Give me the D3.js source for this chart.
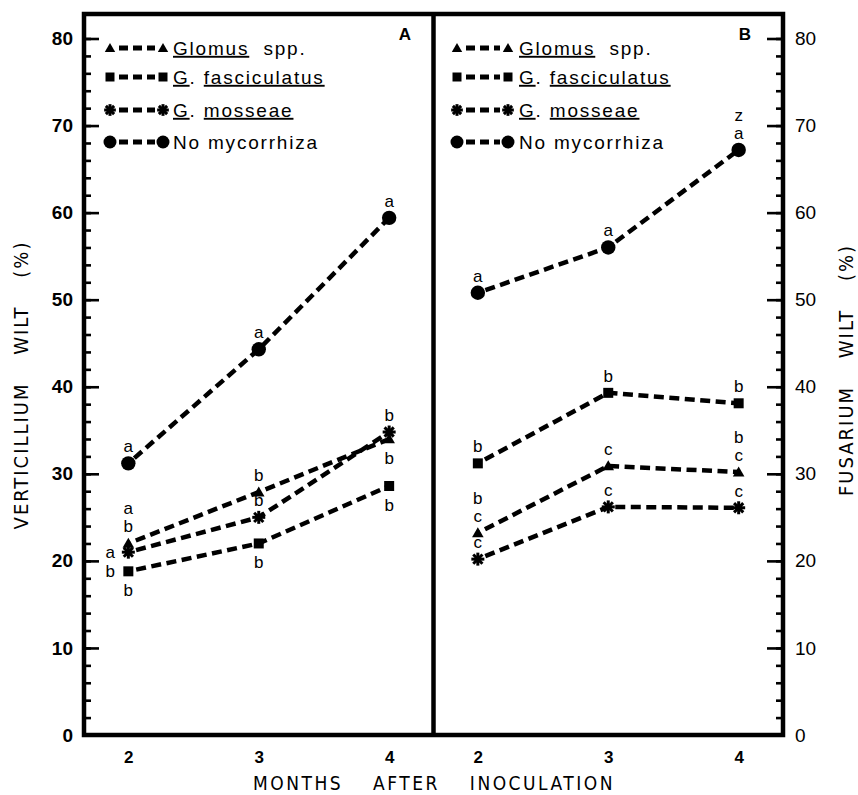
<!DOCTYPE html>
<html>
<head>
<meta charset="utf-8">
<script src="https://cdn.jsdelivr.net/npm/d3@7"></script>
<style>
  body { margin: 0; background: #fff; }
  svg { display: block; }
</style>
</head>
<body>
<svg id="chart" width="858" height="795"></svg>
<script>
const months = [2, 3, 4]
const yTicks = [0, 10, 20, 30, 40, 50, 60, 70, 80]
const yMinorTicks = d3.range(0, 81, 2)
const seriesSymbols = ['triangle', 'square', 'star', 'circle']

// legend text, split into [piece, underlined]
const legendParts = [
  [['Glomus', true], ['  spp.', false]],
  [['G', true], ['. ', false], ['fasciculatus', true]],
  [['G', true], ['. ', false], ['mosseae', true]],
  [['No mycorrhiza', false]]
]

// Panel A - Verticillium wilt (%)
const verticilliumGlomus = [22.0, 27.9, 34.0]
const verticilliumFasciculatus = [18.8, 22.0, 28.6]
const verticilliumMosseae = [21.0, 25.0, 34.8]
const verticilliumNone = [31.2, 44.3, 59.4]

// Panel B - Fusarium wilt (%)
const fusariumGlomus = [23.2, 30.9, 30.2]
const fusariumFasciculatus = [31.2, 39.3, 38.1]
const fusariumMosseae = [20.2, 26.2, 26.1]
const fusariumNone = [50.8, 56.0, 67.2]

// significance letters: [series index, month, side, letters top to bottom]
const verticilliumLetters = [
  [3, 2, 'above', 'a'], [0, 2, 'above', 'ab'], [2, 2, 'left', 'a'],
  [1, 2, 'left', 'b'], [1, 2, 'below', 'b'],
  [3, 3, 'above', 'a'], [0, 3, 'above', 'b'], [2, 3, 'above', 'b'], [1, 3, 'below', 'b'],
  [3, 4, 'above', 'a'], [2, 4, 'above', 'b'], [0, 4, 'below', 'b'], [1, 4, 'below', 'b']
]
const fusariumLetters = [
  [3, 2, 'above', 'a'], [1, 2, 'above', 'b'], [0, 2, 'above', 'bc'], [2, 2, 'above', 'c'],
  [3, 3, 'above', 'a'], [1, 3, 'above', 'b'], [0, 3, 'above', 'c'], [2, 3, 'above', 'c'],
  [3, 4, 'above', 'za'], [1, 4, 'above', 'b'], [0, 4, 'above', 'bc'], [2, 4, 'above', 'c']
]

const SANS = "'Liberation Sans', Arial, sans-serif"
const NARROW = "'Liberation Sans Narrow', 'DejaVu Sans Condensed', sans-serif"

const svg = d3.select('#chart')
const frame = { left: 84, mid: 433.5, right: 783, top: 14, bottom: 735 }

const y = d3.scaleLinear().domain([0, 80]).range([frame.bottom, 38.5])
const xA = d3.scaleLinear().domain([1.66, 4.34]).range([frame.left, frame.mid])
const xB = d3.scaleLinear().domain([1.66, 4.34]).range([frame.mid, frame.right])

const panels = [
  {
    x: xA,
    series: [verticilliumGlomus, verticilliumFasciculatus, verticilliumMosseae, verticilliumNone],
    letters: verticilliumLetters,
    legendX: [110, 163, 173],
    tag: 'A', tagX: 405
  },
  {
    x: xB,
    series: [fusariumGlomus, fusariumFasciculatus, fusariumMosseae, fusariumNone],
    letters: fusariumLetters,
    legendX: [457, 508, 519],
    tag: 'B', tagX: 745
  }
]

function drawSymbol (g, kind, cx, cy, scale = 1) {
  if (kind === 'circle') {
    g.append('circle').attr('cx', cx).attr('cy', cy).attr('r', 7.2 * scale).attr('fill', '#000')
  } else if (kind === 'square') {
    g.append('path')
      .attr('d', d3.symbol(d3.symbolSquare, 100 * scale * scale)())
      .attr('transform', `translate(${cx},${cy})`)
  } else if (kind === 'triangle') {
    g.append('path')
      .attr('d', d3.symbol(d3.symbolTriangle, 58 * scale * scale)())
      .attr('transform', `translate(${cx},${cy + 1})`)
  } else {
    const r = 6.5 * scale
    const star = g.append('g').attr('transform', `translate(${cx},${cy})`)
    d3.range(4).forEach((k) => {
      const a = k * Math.PI / 4
      star.append('line')
        .attr('x1', -r * Math.cos(a)).attr('y1', -r * Math.sin(a))
        .attr('x2', r * Math.cos(a)).attr('y2', r * Math.sin(a))
        .attr('stroke', '#000').attr('stroke-width', 3)
    })
    star.append('circle').attr('r', 3.5 * scale).attr('fill', '#000')
  }
}

// axes
const leftMinor = svg.append('g').attr('transform', `translate(${frame.left},0)`)
  .call(d3.axisLeft(y).tickValues(yMinorTicks).tickSize(-7).tickFormat(''))
const leftMajor = svg.append('g').attr('transform', `translate(${frame.left},0)`)
  .call(d3.axisLeft(y).tickValues(yTicks).tickSize(-15).tickPadding(11))
leftMajor.selectAll('text')
  .attr('font-family', SANS).attr('font-size', 19).attr('font-weight', 'bold').attr('fill', '#000')

const rightMinor = svg.append('g').attr('transform', `translate(${frame.right},0)`)
  .call(d3.axisRight(y).tickValues(yMinorTicks).tickSize(-7).tickFormat(''))
const rightMajor = svg.append('g').attr('transform', `translate(${frame.right},0)`)
  .call(d3.axisRight(y).tickValues(yTicks).tickSize(-16).tickPadding(12))
rightMajor.selectAll('text')
  .attr('font-family', SANS).attr('font-size', 19).attr('fill', '#000')

;[leftMinor, leftMajor, rightMinor, rightMajor].forEach((g) => {
  g.select('.domain').remove()
  g.selectAll('line').attr('stroke', '#000').attr('stroke-width', 2.6)
})

panels.forEach((p) => {
  const ax = svg.append('g').attr('transform', `translate(0,${frame.bottom})`)
    .call(d3.axisBottom(p.x).tickValues(months).tickFormat(d3.format('d')).tickSize(0).tickPadding(16))
  ax.select('.domain').remove()
  ax.selectAll('text')
    .attr('font-family', SANS).attr('font-size', 17).attr('font-weight', 'bold').attr('fill', '#000')
})

// frame
const frameG = svg.append('g').attr('stroke', '#000').attr('stroke-width', 4.5).attr('fill', 'none')
frameG.append('rect')
  .attr('x', frame.left).attr('y', frame.top)
  .attr('width', frame.right - frame.left).attr('height', frame.bottom - frame.top)
frameG.append('line')
  .attr('x1', frame.mid).attr('x2', frame.mid).attr('y1', frame.top).attr('y2', frame.bottom)

// data
panels.forEach((p) => {
  const g = svg.append('g')
  const line = d3.line().x((d, i) => p.x(months[i])).y((d) => y(d))
  p.series.forEach((values) => {
    g.append('path')
      .attr('d', line(values))
      .attr('fill', 'none')
      .attr('stroke', '#000')
      .attr('stroke-width', 4.5)
      .attr('stroke-dasharray', '10,5.5')
      .attr('stroke-dashoffset', -8)
  })
  p.series.forEach((values, s) => {
    values.forEach((v, i) => drawSymbol(g, seriesSymbols[s], p.x(months[i]), y(v)))
  })

  // significance letters
  const lg = g.append('g')
    .attr('font-family', SANS).attr('font-size', 17).attr('text-anchor', 'middle')
  p.letters.forEach(([s, m, side, text]) => {
    const px = p.x(m)
    const py = y(p.series[s][months.indexOf(m)])
    const chars = text.split('')
    chars.forEach((c, k) => {
      let tx = px
      let ty
      if (side === 'above') ty = py - 17 - (chars.length - 1 - k) * 18
      else if (side === 'below') ty = py + 19 + k * 18
      else { tx = px - 18; ty = py }
      lg.append('text').attr('x', tx).attr('y', ty).attr('dy', '0.35em').text(c)
    })
  })

  // legend
  const rows = [48, 77, 110, 142]
  const leg = svg.append('g')
  rows.forEach((ry, s) => {
    leg.append('line')
      .attr('x1', p.legendX[0] + 9).attr('x2', p.legendX[1] - 8)
      .attr('y1', ry).attr('y2', ry)
      .attr('stroke', '#000').attr('stroke-width', 5).attr('stroke-dasharray', '9,5')
    drawSymbol(leg, seriesSymbols[s], p.legendX[0], ry, 0.9)
    drawSymbol(leg, seriesSymbols[s], p.legendX[1], ry, 0.9)
    const t = leg.append('text')
      .attr('x', p.legendX[2]).attr('y', ry).attr('dy', '0.36em')
      .attr('font-family', SANS).attr('font-size', 19).attr('letter-spacing', 1.8)
      .style('white-space', 'pre')
    legendParts[s].forEach(([piece, under]) => {
      t.append('tspan').text(piece).style('text-decoration', under ? 'underline' : 'none')
    })
  })

  svg.append('text')
    .attr('x', p.tagX).attr('y', 34).attr('dy', '0.35em')
    .attr('font-family', SANS).attr('font-size', 17).attr('font-weight', 'bold')
    .attr('text-anchor', 'middle').text(p.tag)
})

// axis titles
svg.append('text')
  .attr('transform', 'translate(28,385) rotate(-90)')
  .attr('text-anchor', 'middle')
  .attr('font-family', NARROW).attr('font-size', 20).attr('letter-spacing', 2)
  .attr('word-spacing', 20)
  .text('VERTICILLIUM WILT (%)')

svg.append('text')
  .attr('transform', 'translate(853,370) rotate(-90)')
  .attr('text-anchor', 'middle')
  .attr('font-family', NARROW).attr('font-size', 20).attr('letter-spacing', 2)
  .attr('word-spacing', 20)
  .text('FUSARIUM WILT (%)')

svg.append('text')
  .attr('x', 434).attr('y', 790)
  .attr('text-anchor', 'middle')
  .attr('font-family', NARROW).attr('font-size', 19).attr('letter-spacing', 2.5)
  .attr('word-spacing', 22)
  .text('MONTHS AFTER INOCULATION')
</script>
</body>
</html>
